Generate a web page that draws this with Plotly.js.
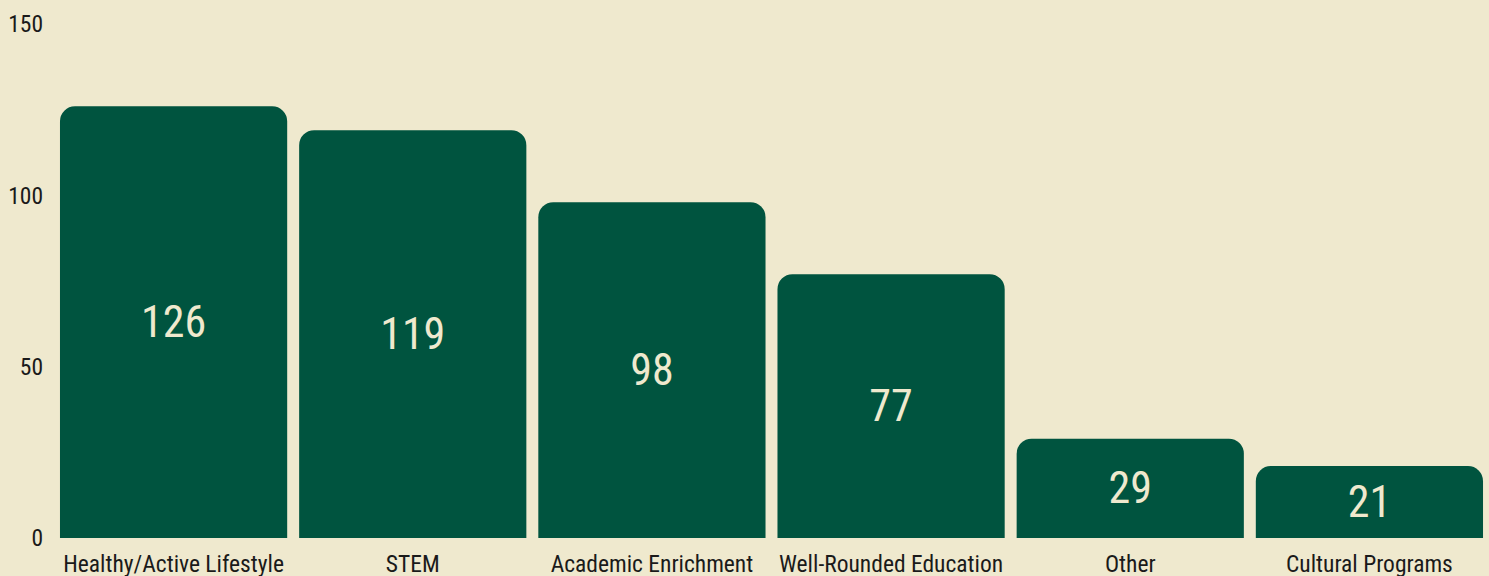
<!DOCTYPE html>
<html>
<head>
<meta charset="utf-8">
<script src="https://cdn.plot.ly/plotly-3.0.1.min.js"></script>
<style>
  html, body { margin: 0; padding: 0; background: #EFE9CE; }
  #chart { width: 1489px; height: 576px; }
</style>
</head>
<body>
<div id="chart"></div>
<script>
const categories = ["Healthy/Active Lifestyle", "STEM", "Academic Enrichment", "Well-Rounded Education", "Other", "Cultural Programs"];
const values = [126, 119, 98, 77, 29, 21];
const yTickVals = [0, 50, 100, 150];

const FONT = "'Roboto Condensed', 'Liberation Sans Narrow', 'DejaVu Sans Condensed', Roboto, sans-serif";
const BG = "#EFE9CE";
const BAR = "#00543F";

const trace = {
  type: "bar",
  x: categories,
  y: values,
  text: values.map(String),
  textposition: "inside",
  insidetextanchor: "middle",
  textangle: 0,
  insidetextfont: { family: FONT, size: 44, color: BG },
  marker: { color: BAR, cornerradius: 15, line: { width: 0 } },
  hoverinfo: "x+y"
};

const layout = {
  width: 1489,
  height: 576,
  paper_bgcolor: BG,
  plot_bgcolor: BG,
  margin: { l: 54, r: 0, t: 24, b: 38, pad: 0 },
  bargap: 0.05,
  showlegend: false,
  font: { family: FONT, size: 23.5, color: "#1a1a1a" },
  xaxis: {
    type: "category",
    showgrid: false,
    zeroline: false,
    showline: false,
    ticks: "",
    ticklabelstandoff: 9,
    tickfont: { family: FONT, size: 23.5, color: "#1a1a1a" },
    automargin: false
  },
  yaxis: {
    range: [0, 150],
    tickvals: yTickVals,
    ticktext: yTickVals.map(String),
    showgrid: false,
    zeroline: false,
    showline: false,
    ticks: "",
    ticklabelstandoff: 10,
    tickfont: { family: FONT, size: 23.5, color: "#1a1a1a" },
    automargin: false
  }
};

Plotly.newPlot("chart", [trace], layout, { displayModeBar: false, staticPlot: true });
</script>
</body>
</html>
